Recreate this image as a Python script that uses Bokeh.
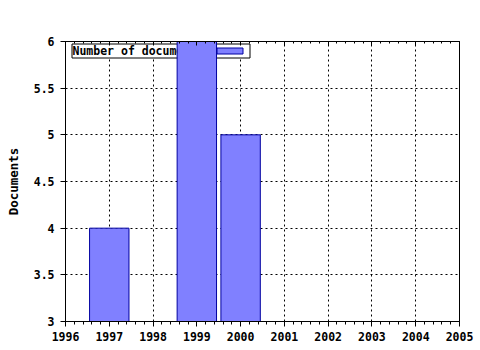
from bokeh.plotting import figure
from bokeh.models import (LinearAxis, Label, BoxAnnotation, Range1d,
                          SingleIntervalTicker, CustomJSTickFormatter, ColumnDataSource)
from bokeh.embed import file_html
from bokeh.resources import INLINE

years = [1997, 1999, 2000]
documents = [4, 6, 5]
series_name = "Number of documents"
y_label = "Documents"

FONT = "DejaVu Sans Mono"
BAR_FILL = "#8080FF"
BAR_LINE = "#0000A0"

src = ColumnDataSource(dict(x=years, top=documents))

p = figure(width=480, height=350, x_range=Range1d(1996, 2005), y_range=Range1d(3, 6),
           output_backend="svg", toolbar_location=None,
           min_border_left=65, min_border_right=21, min_border_top=41, min_border_bottom=29,
           x_axis_location=None, y_axis_location=None)
p.background_fill_color = "white"
p.border_fill_color = "white"
p.outline_line_color = "black"
p.outline_line_width = 1

xt = SingleIntervalTicker(interval=1, num_minor_ticks=5)
yt = SingleIntervalTicker(interval=0.5, num_minor_ticks=0)
fmt = CustomJSTickFormatter(code="return String(Math.round(tick*10)/10);")
blank = CustomJSTickFormatter(code="return '';")

def style_axis(ax):
    ax.axis_line_color = "black"
    ax.major_tick_line_color = "black"
    ax.minor_tick_line_color = "black"
    ax.major_label_text_font = FONT
    ax.major_label_text_font_style = "bold"
    ax.major_label_text_font_size = "11.5px"
    ax.major_label_text_color = "black"
    ax.axis_label_text_font = FONT
    ax.axis_label_text_font_style = "bold"
    ax.axis_label_text_font_size = "12.5px"
    ax.axis_label_text_color = "black"

bottom = LinearAxis(ticker=xt, formatter=fmt)
style_axis(bottom)
bottom.major_tick_in = 0
bottom.major_tick_out = 5
bottom.minor_tick_in = 0
bottom.minor_tick_out = 3
bottom.major_label_standoff = 5
p.add_layout(bottom, "below")

top = LinearAxis(ticker=xt, formatter=blank)
style_axis(top)
top.major_tick_in = 4
top.major_tick_out = 0
top.minor_tick_in = 2
top.minor_tick_out = 0
top.major_label_standoff = 0
p.add_layout(top, "above")

left = LinearAxis(ticker=yt, formatter=fmt, axis_label=y_label)
style_axis(left)
left.major_tick_in = 0
left.major_tick_out = 5
left.minor_tick_line_color = None
left.major_label_standoff = 6
left.axis_label_standoff = 10
p.add_layout(left, "left")

p.xgrid.ticker = xt
p.ygrid.ticker = yt
for g in (p.xgrid, p.ygrid):
    g.grid_line_color = "black"
    g.grid_line_dash = "2 3"
    g.grid_line_width = 1
    g.grid_line_alpha = 1.0

# legend (drawn beneath the bars as in the reference)
leg_box = BoxAnnotation(left=71.5, right=249.5, top=43.5, bottom=57.5,
                        left_units="canvas", right_units="canvas",
                        top_units="canvas", bottom_units="canvas",
                        fill_color="white", fill_alpha=1, line_color="black",
                        line_alpha=1, line_width=1, level="underlay")
p.add_layout(leg_box)
leg_swatch = BoxAnnotation(left=216.5, right=242.5, top=47.5, bottom=53.5,
                           left_units="canvas", right_units="canvas",
                           top_units="canvas", bottom_units="canvas",
                           fill_color=BAR_FILL, fill_alpha=1, line_color=BAR_LINE,
                           line_alpha=1, line_width=1, level="underlay")
p.add_layout(leg_swatch)
leg_text = Label(x=72, y=50.5, x_units="canvas", y_units="canvas", text=series_name,
                 text_font=FONT, text_font_style="bold", text_font_size="11.5px",
                 text_baseline="middle", text_align="left", text_color="black",
                 level="underlay")
p.add_layout(leg_text)

p.vbar(x="x", top="top", bottom=3, width=0.9, source=src,
       fill_color=BAR_FILL, line_color=BAR_LINE, line_width=1)

open("out.html", "w").write(file_html(p, INLINE))
